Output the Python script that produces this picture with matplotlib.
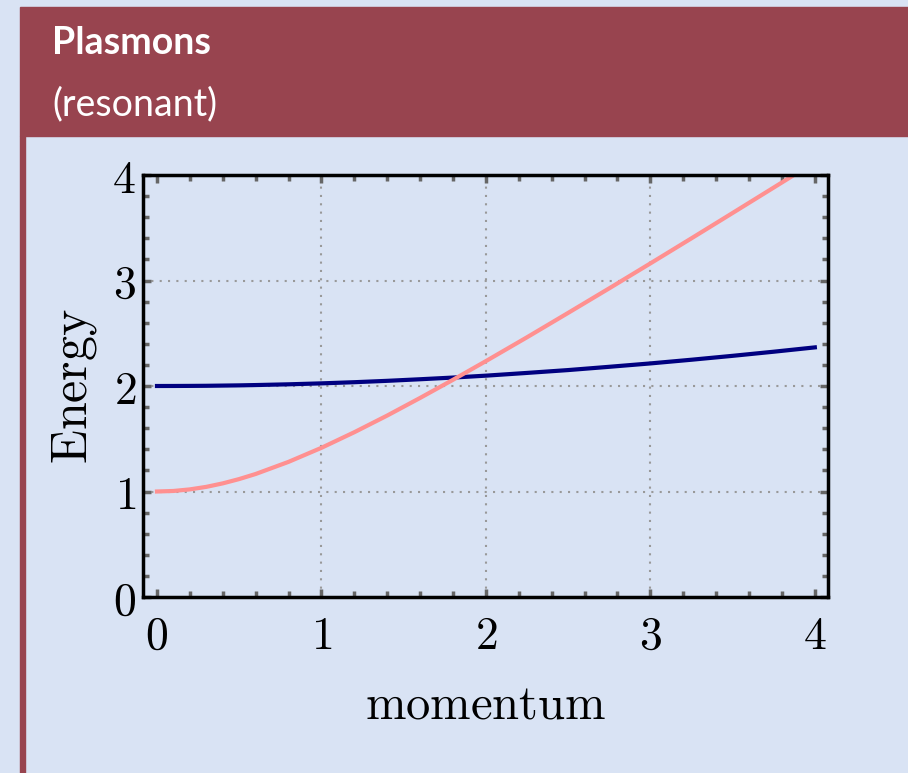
import numpy as np
import matplotlib.pyplot as plt
from matplotlib.patches import Rectangle

plt.rcParams['mathtext.fontset'] = 'cm'
plt.rcParams['font.family'] = 'serif'
plt.rcParams['font.serif'] = ['DejaVu Serif']

# values
momentum = [0.0, 0.1, 0.2, 0.3, 0.4, 0.5, 0.6, 0.8, 1.0, 1.2, 1.4, 1.6, 1.8, 2.0,
            2.25, 2.5, 2.75, 3.0, 3.25, 3.5, 3.75, 4.0]
plasmon = [1.0, 1.005, 1.02, 1.044, 1.077, 1.118, 1.166, 1.281, 1.414, 1.562, 1.720,
           1.887, 2.059, 2.236, 2.462, 2.693, 2.926, 3.162, 3.400, 3.640, 3.881, 4.123]
resonance = [2.0, 2.0003, 2.001, 2.002, 2.004, 2.006, 2.009, 2.016, 2.025, 2.036, 2.049,
             2.064, 2.080, 2.098, 2.124, 2.151, 2.182, 2.214, 2.249, 2.286, 2.325, 2.366]
baseline = [0.0] * len(momentum)

bg = '#D9E3F4'
head = '#98444F'

fig = plt.figure(figsize=(9.08, 7.73), dpi=100, facecolor=bg)

# beamer-like block
fig.patches.append(Rectangle((20/908, 1 - 136/773), 1 - 20/908, 129/773,
                             transform=fig.transFigure, color=head, zorder=0))
fig.patches.append(Rectangle((20/908, 0), 5/908, 1 - 136/773,
                             transform=fig.transFigure, color=head, zorder=0))
fig.text(52/908, 1 - 43/773, 'Plasmons', color='white', fontsize=27,
         fontweight='bold', family='Lato', va='center', ha='left')
fig.text(52/908, 1 - 104/773, '(resonant)', color='white', fontsize=27,
         family='Lato', va='center', ha='left')

ax = fig.add_axes([143/908, 1 - 597/773, 685/908, 422/773])
ax.set_facecolor(bg)
ax.plot(momentum, resonance, color='#000080', lw=3, zorder=3)
ax.plot(momentum, plasmon, color='#FF9090', lw=3, zorder=3)
ax.plot(momentum, baseline, color='#000080', lw=1, ls='--', zorder=4, clip_on=False)

ax.set_xlim(-0.085, 4.08)
ax.set_ylim(0, 4)
ticks = [0, 1, 2, 3, 4]
ax.set_xticks(ticks)
ax.set_yticks(ticks)
ax.set_xticklabels(['$%d$' % t for t in ticks])
ax.set_yticklabels(['$%d$' % t for t in ticks])
ax.set_xticks(np.arange(0, 4.01, 0.2), minor=True)
ax.set_yticks(np.arange(0, 4.01, 0.2), minor=True)
ax.tick_params(which='both', direction='in', top=True, right=True, color='#666666',
               labelsize=33)
ax.tick_params(axis='x', which='major', pad=12)
ax.tick_params(axis='y', which='major', pad=5)
ax.tick_params(which='major', length=6, width=2.5)
ax.tick_params(which='minor', length=4, width=2.5)
for t in [1, 2, 3]:
    ax.axvline(t, ls=(0, (1, 3)), color='#999999', lw=1.5, zorder=1)
    ax.axhline(t, ls=(0, (1, 3)), color='#999999', lw=1.5, zorder=1)
for s in ax.spines.values():
    s.set_linewidth(2.5)
    s.set_color('black')
    s.set_zorder(5)

ax.set_xlabel(r'$\mathrm{momentum}$', fontsize=35, labelpad=16)
ax.set_ylabel(r'$\mathrm{Energy}$', fontsize=36, labelpad=10)

fig.savefig('out.png', dpi=100, facecolor=bg)
